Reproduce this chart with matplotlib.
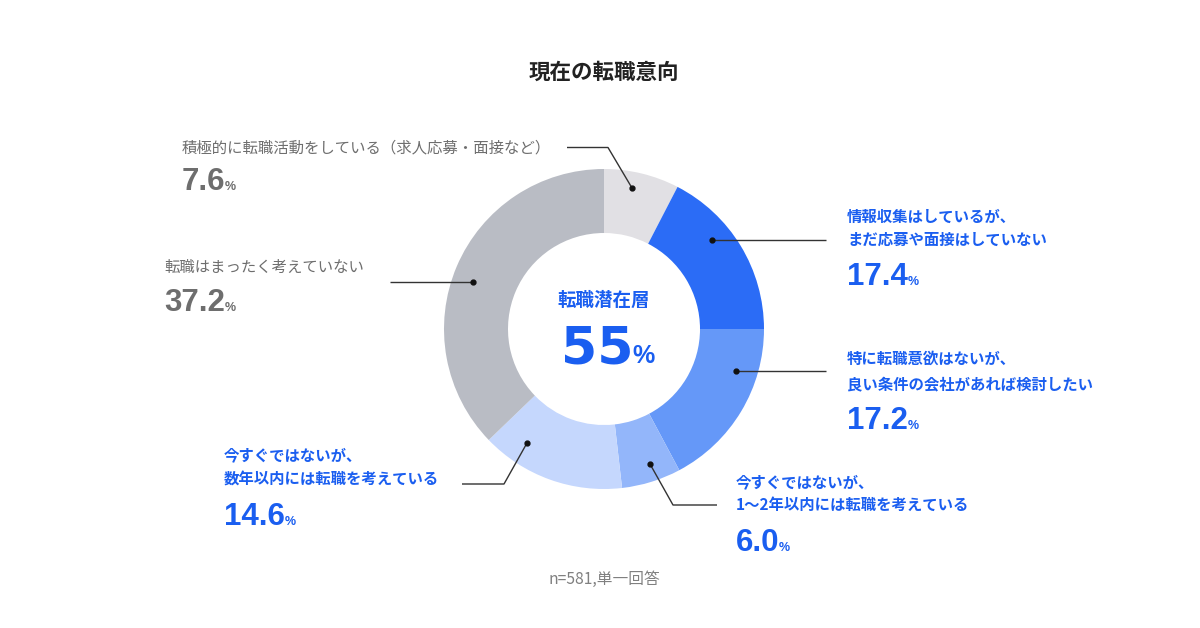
import matplotlib
matplotlib.use("Agg")
import matplotlib.pyplot as plt

plt.rcParams['font.family'] = ['Noto Sans CJK JP', 'DejaVu Sans']

W, H = 1200, 628

# ---- data ----
categories = [
    "積極的に転職活動をしている（求人応募・面接など）",
    "情報収集はしているが、\nまだ応募や面接はしていない",
    "特に転職意欲はないが、\n良い条件の会社があれば検討したい",
    "今すぐではないが、\n1〜2年以内には転職を考えている",
    "今すぐではないが、\n数年以内には転職を考えている",
    "転職はまったく考えていない",
]
values = [7.6, 17.4, 17.2, 6.0, 14.6, 37.2]
value_labels = ["7.6", "17.4", "17.2", "6.0", "14.6", "37.2"]
colors = ["#e1e0e4", "#2b6cf6", "#6598f8", "#93b6fa", "#c5d7fd", "#b9bcc4"]
label_colors = ["#6e6e6e", "#1a5ef0", "#1a5ef0", "#1a5ef0", "#1a5ef0", "#6e6e6e"]
center_title = "転職潜在層"
center_value = "55"
title = "現在の転職意向"
footnote = "n=581,単一回答"

BLUE = "#1a5ef0"

fig = plt.figure(figsize=(W / 100, H / 100), dpi=100)
ax = fig.add_axes([0, 0, 1, 1])


def Y(y):
    return H - y


cx, cy = 604, 329
R, RW = 160, 64
ax.pie(values, colors=colors, startangle=90, counterclock=False,
       center=(cx, Y(cy)), radius=R, wedgeprops=dict(width=RW, linewidth=0),
       frame=True)
ax.set_xlim(0, W)
ax.set_ylim(0, H)
ax.set_aspect('equal')
ax.axis('off')

# title & footnote
ax.text(604, Y(72), title, ha='center', va='center', fontsize=15.5,
        fontweight='bold', color='#222222')
ax.text(604, Y(579), footnote, ha='center', va='center', fontsize=11.3,
        color='#808080')

# layout (pixel positions of labels / leader lines)
layout = [
    dict(x=183, ty=[148], ny=179, path=[(632, 188), (608, 147.5), (567, 147.5)]),
    dict(x=848, ty=[217, 240], ny=274, path=[(712, 240), (826, 240)]),
    dict(x=848, ty=[359, 384], ny=418, path=[(736, 371), (826, 371)]),
    dict(x=737, ty=[482, 505], ny=540, path=[(650, 464), (673, 505), (717, 505)]),
    dict(x=225, ty=[455, 480], ny=514, path=[(527, 443), (504, 484), (462, 484)]),
    dict(x=165, ty=[267], ny=300, path=[(473, 282), (390, 282)]),
]

num_texts = []
for cat, val, col, L in zip(categories, value_labels, label_colors, layout):
    lines = cat.split("\n")
    weight = 'bold' if col == BLUE else 'normal'
    for ln, yy in zip(lines, L['ty']):
        ax.text(L['x'] - 1, Y(yy), ln, ha='left', va='center', fontsize=11.1,
                color=col, fontweight=weight)
    base = L['ny'] + 11
    t = ax.text(L['x'] - 1, Y(base), val, ha='left', va='baseline',
                fontsize=22.5, fontweight='bold', color=col,
                family='Liberation Sans')
    num_texts.append((t, col, base))
    xs = [p[0] for p in L['path']]
    ys = [Y(p[1]) for p in L['path']]
    ax.plot(xs, ys, color='#333333', lw=1.0, solid_capstyle='butt')
    ax.plot(xs[0], ys[0], 'o', color='#111111', ms=3.5)

# center texts
ax.text(604, Y(300), center_title, ha='center', va='center', fontsize=13.3,
        fontweight='bold', color=BLUE)
big = ax.text(561, Y(363), center_value, ha='left', va='baseline', fontsize=37.5,
              fontweight='bold', color=BLUE, family='DejaVu Sans')

fig.canvas.draw()
renderer = fig.canvas.get_renderer()
inv = ax.transData.inverted()

for t, col, base in num_texts:
    bb = t.get_window_extent(renderer)
    x1 = inv.transform((bb.x1, bb.y0))[0]
    ax.text(x1 - 0.5, Y(base), "%", ha='left', va='baseline', fontsize=9,
            fontweight='bold', color=col, family='Liberation Sans')

bb = big.get_window_extent(renderer)
x1 = inv.transform((bb.x1, bb.y0))[0]
ax.text(x1 - 1, Y(363), "%", ha='left', va='baseline', fontsize=18,
        fontweight='bold', color=BLUE, family='Liberation Sans')

fig.savefig("out.png", dpi=100, facecolor='white')
